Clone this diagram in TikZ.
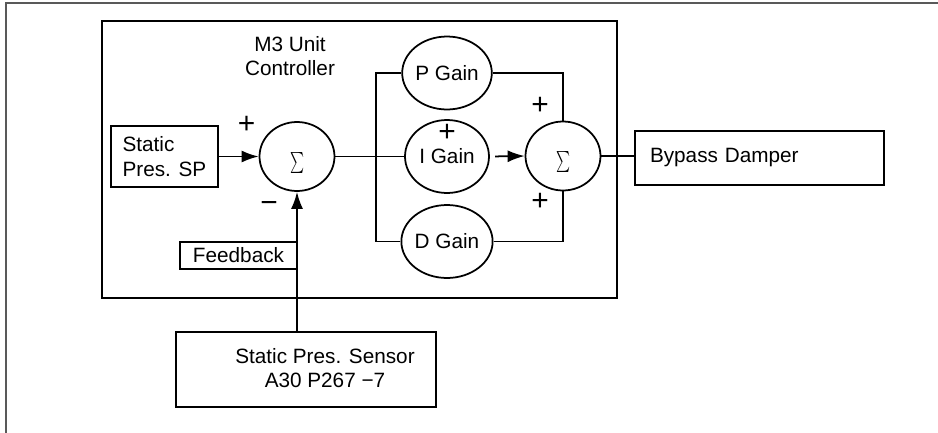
\documentclass[tikz,border=0pt]{standalone}
\usepackage{fontspec}
\setmainfont{Liberation Sans}
\usepackage{graphicx}
\usetikzlibrary{shapes.geometric,arrows.meta}
\newcommand{\sumsign}{\resizebox*{0.28cm}{0.42cm}{$\sum$}}

\begin{document}
\begin{tikzpicture}[x=0.02cm, y=-0.02cm,
    every node/.style={font=\fontsize{11.8}{13.8}\selectfont},
    block/.style={draw, line width=1pt, inner sep=0pt},
    gain/.style={draw, ellipse, line width=1pt, minimum width=1.68cm, minimum height=1.46cm, inner sep=0pt},
    sumnode/.style={draw, ellipse, line width=1pt, minimum width=1.5cm, minimum height=1.38cm},
    sign/.style={font=\fontsize{17}{17}\selectfont, inner sep=0pt},
    wire/.style={line width=1pt},
    feed/.style={wire, -{Latex[length=0.34cm,width=0.24cm]}}]
    \useasboundingbox (0,0) rectangle (938,433);
    \draw[gray!70!black, line width=1pt] (6,433) -- (6,3) -- (938,3);
    \node[block, line width=1.4pt, minimum width=10.3cm, minimum height=5.54cm] (ctrl) at (359.5,159.5) {};
    \node[align=center] (title) at (290,56) {M3 Unit\\Controller};
    \node[block, align=left, minimum width=2.14cm, minimum height=1.22cm] (sp) at (164.4,156.5) {Static\\Pres. SP};
    \node[sumnode] (sum1) at (297,156.5) {};
    \node (sig1) at ([yshift=-0.12cm]sum1.center) {\sumsign};
    \node[block, minimum width=2.34cm, minimum height=0.54cm] (fb) at (238.5,255.2) {Feedback};
    \node[gain] (pgain) at (447,73) {P Gain};
    \node[gain] (igain) at (447,156.5) {I Gain};
    \node[gain] (dgain) at (447,241.5) {D Gain};
    \node[sumnode] (sum2) at (563,156) {};
    \node (sig2) at ([yshift=-0.12cm]sum2.center) {\sumsign};
    \node[block, minimum width=4.98cm, minimum height=1.08cm, text width=4.38cm, inner xsep=0.3cm, align=left] (bypass) at (759.5,158) {Bypass Damper};
    \node[block, minimum width=5.2cm, minimum height=1.5cm] (sensor) at (306,369.4) {};
    \node[align=center] (sensortxt) at (325,368) {Static Pres. Sensor\\A30 P267 −7};
    \node[sign] (pa) at (246.7,125) {+};
    \node[sign] (ma) at (269,207) {−};
    \node[sign] (pb) at (447,133) {+};
    \node[sign] (pc) at (540,106) {+};
    \node[sign] (pd) at (540,201.7) {+};
    \coordinate (split) at (376,156.5);
    \draw[feed] (sp.east) -- (sum1.west);
    \draw[wire] (sum1.east) -- (igain.west);
    \draw[wire] (pgain.west) -| (split) |- (dgain.west);
    \draw[feed, shorten <=3pt] (igain.east) -- (sum2.west);
    \draw[wire] (pgain.east) -| (sum2.north);
    \draw[wire] (dgain.east) -| (sum2.south);
    \draw[wire] (sum2.east) -- (sum2.east -| bypass.west);
    \draw[feed] (sensor.north -| sum1.south) -- (sum1.south);
\end{tikzpicture}
\end{document}
